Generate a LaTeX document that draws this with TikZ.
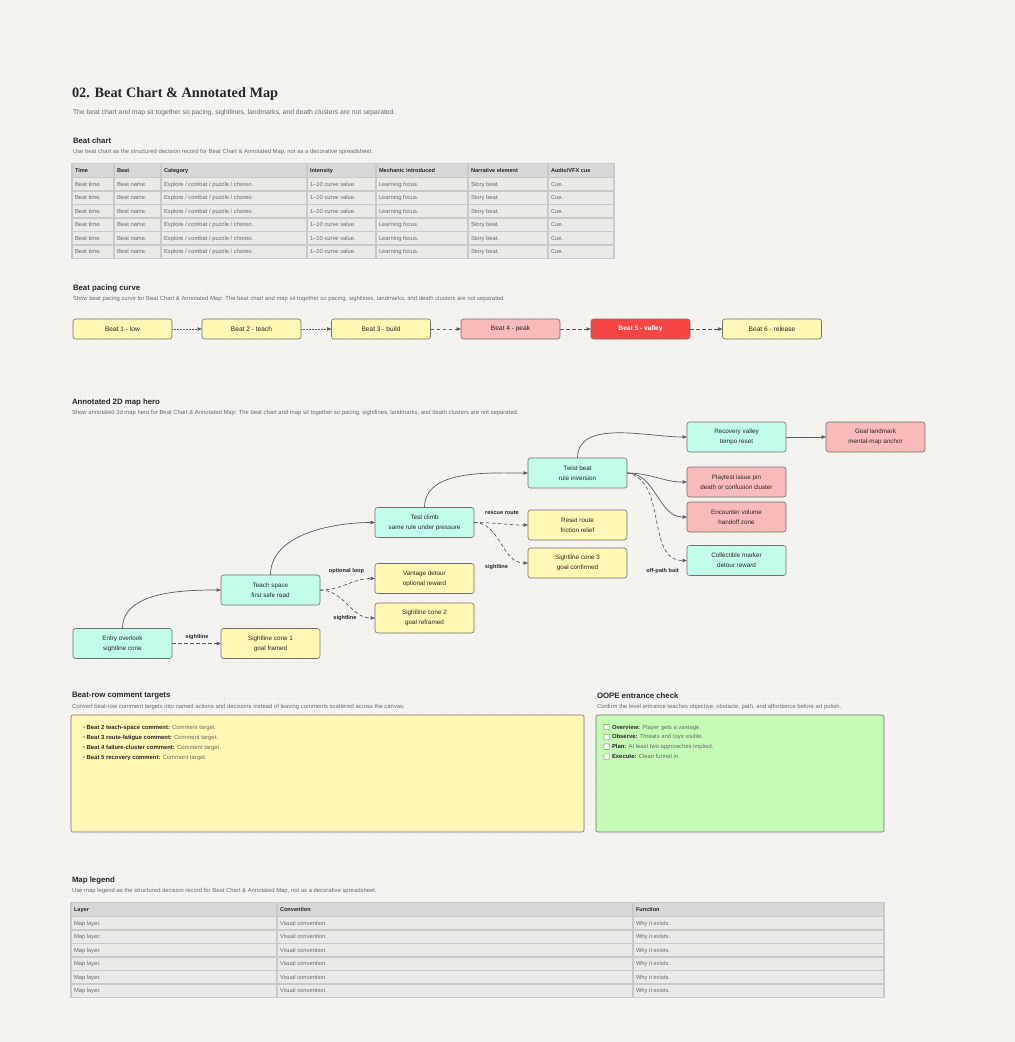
\documentclass[tikz,border=0pt]{standalone}
\usepackage{fontspec}
\setmainfont{Liberation Sans}
\newfontfamily\titlefont{Liberation Serif}
\usetikzlibrary{arrows.meta}
\definecolor{bgc}{HTML}{F4F3EF}
\definecolor{gridc}{HTML}{F0EFEB}
\definecolor{ink}{HTML}{262626}
\definecolor{subc}{HTML}{6A6A6A}
\definecolor{edgec}{HTML}{5A5A5A}
\definecolor{bordc}{HTML}{707070}
\definecolor{cteal}{HTML}{C2FCEB}
\definecolor{cyel}{HTML}{FFF7B3}
\definecolor{cpink}{HTML}{F9BABA}
\definecolor{cred}{HTML}{F44545}
\definecolor{cgreen}{HTML}{C4FCB5}
\definecolor{cellc}{HTML}{EBEAE6}
\definecolor{headc}{HTML}{D8D8D8}
\definecolor{tline}{HTML}{C9C9C9}
\begin{document}
\begin{tikzpicture}[x=1pt,y=-1pt,
  every node/.style={inner sep=0pt,outer sep=0pt},
  sec/.style={anchor=west,font=\fontsize{7.8}{9}\selectfont\bfseries,text=ink},
  sub/.style={anchor=west,font=\fontsize{5.9}{7}\selectfont,text=subc},
  cellt/.style={anchor=base west,font=\fontsize{5.8}{7}\selectfont,text=subc},
  hcellt/.style={anchor=base west,font=\fontsize{5.6}{7}\selectfont\bfseries,text=ink},
  mapbox/.style={draw=bordc,rounded corners=2.5pt,line width=0.6pt,minimum width=99pt,minimum height=30pt,align=center,font=\fontsize{6.3}{10}\selectfont,text=ink},
  beatbox/.style={draw=bordc,rounded corners=2.5pt,line width=0.6pt,minimum width=99pt,minimum height=20pt,font=\fontsize{6.6}{8}\selectfont,text=ink},
  link/.style={draw=edgec,line width=0.7pt,-{Triangle[length=4.5pt,width=3.4pt]}},
  dlink/.style={link,dash pattern=on 3.5pt off 2.5pt},
  flink/.style={link,dash pattern=on 1.2pt off 0.3pt},
  elab/.style={font=\fontsize{5.6}{7}\selectfont\bfseries,text=ink},
  item/.style={anchor=base west,font=\fontsize{5.9}{7}\selectfont,text=subc},
]
% background
\fill[bgc] (0,0) rectangle (1015,1042);
\useasboundingbox (0,0) rectangle (1015,1042);
\foreach \gx in {8,26,...,1015} \draw[gridc,line width=0.35pt] (\gx,0) -- (\gx,1042);
\foreach \gy in {14,32,...,1042} \draw[gridc,line width=0.35pt] (0,\gy) -- (1015,\gy);

% title
\node[anchor=west,font=\titlefont\fontsize{14.3}{16}\selectfont\bfseries,text=ink] (title) at (72,94) {02. Beat Chart \& Annotated Map};
\node[anchor=west,font=\fontsize{6.8}{8}\selectfont,text=subc] (subtitle) at (73,113) {The beat chart and map sit together so pacing, sightlines, landmarks, and death clusters are not separated.};

% ---------------- Beat chart table
\node[sec] (h1) at (73,141) {Beat chart};
\node[sub] (s1) at (73,152) {Use beat chart as the structured decision record for Beat Chart \& Annotated Map, not as a decorative spreadsheet.};
\fill[tline] (71,163) rectangle (615,259);
\foreach \xa/\xb [count=\c] in {72/114,114/161,161/307,307/376,376/468,468/548,548/614}{
  \fill[headc] (\xa+0.7,164) rectangle (\xb-0.7,176.9);
  \foreach \r in {1,...,6}{
    \pgfmathsetmacro{\ya}{164+13.5*\r}
    \fill[cellc] (\xa+0.7,\ya+0.7) rectangle (\xb-0.7,\ya+12.8);
  }
}
\foreach \xa/\txt [count=\c] in {72/{Time},114/{Beat},161/{Category},307/{Intensity},376/{Mechanic introduced},468/{Narrative element},548/{Audio/VFX cue}}
  \node[hcellt] (bh\c) at (\xa+3,172.8) {\txt};
\foreach \r in {1,...,6}{
  \pgfmathsetmacro{\yy}{172.8+13.5*\r}
  \node[cellt] (b\r a) at (75,\yy) {Beat time.};
  \node[cellt] (b\r b) at (117,\yy) {Beat name.};
  \node[cellt] (b\r c) at (164,\yy) {Explore / combat / puzzle / choreo.};
  \node[cellt] (b\r d) at (310,\yy) {1--10 curve value.};
  \node[cellt] (b\r e) at (379,\yy) {Learning focus.};
  \node[cellt] (b\r f) at (471,\yy) {Story beat.};
  \node[cellt] (b\r g) at (551,\yy) {Cue.};
}

% ---------------- Beat pacing curve
\node[sec] (h2) at (73,288) {Beat pacing curve};
\node[sub] (s2) at (73,299) {Show beat pacing curve for Beat Chart \& Annotated Map: The beat chart and map sit together so pacing, sightlines, landmarks, and death clusters are not separated.};
\node[beatbox,fill=cyel] (p1) at (122.5,329) {Beat 1 - low};
\node[beatbox,fill=cyel] (p2) at (251.5,329) {Beat 2 - teach};
\node[beatbox,fill=cyel] (p3) at (381,329) {Beat 3 - build};
\node[beatbox,fill=cpink] (p4) at (510.5,329) {Beat 4 - peak};
\node[beatbox,fill=cred,text=white,font=\fontsize{6.6}{8}\selectfont\bfseries] (p5) at (640.5,329) {Beat 5 - valley};
\node[beatbox,fill=cyel] (p6) at (772,329) {Beat 6 - release};
\draw[flink] (p1) -- (p2);
\draw[flink] (p2) -- (p3);
\draw[dlink] (p3) -- (p4);
\draw[dlink] (p4) -- (p5);
\draw[dlink] (p5) -- (p6);

% ---------------- Annotated 2D map hero
\node[sec] (h3) at (72,402) {Annotated 2D map hero};
\node[sub] (s3) at (72,413) {Show annotated 2d map hero for Beat Chart \& Annotated Map: The beat chart and map sit together so pacing, sightlines, landmarks, and death clusters are not separated.};

\node[mapbox,fill=cteal] (entry) at (122.5,643.5) {Entry overlook\\sightline cone};
\node[mapbox,fill=cyel] (cone1) at (270.5,643.5) {Sightline cone 1\\goal framed};
\node[mapbox,fill=cteal] (teach) at (270.5,590) {Teach space\\first safe read};
\node[mapbox,fill=cyel] (vantage) at (424.5,578.5) {Vantage detour\\optional reward};
\node[mapbox,fill=cyel] (cone2) at (424.5,618) {Sightline cone 2\\goal reframed};
\node[mapbox,fill=cteal] (test) at (424.5,522.5) {Test climb\\same rule under pressure};
\node[mapbox,fill=cyel] (reset) at (577.5,525) {Reset route\\friction relief};
\node[mapbox,fill=cyel] (cone3) at (577.5,563) {Sightline cone 3\\goal confirmed};
\node[mapbox,fill=cteal] (twist) at (577.5,473) {Twist beat\\rule inversion};
\node[mapbox,fill=cteal] (recovery) at (736.5,437) {Recovery valley\\tempo reset};
\node[mapbox,fill=cpink] (goal) at (875.5,437) {Goal landmark\\mental-map anchor};
\node[mapbox,fill=cpink] (playtest) at (736.5,482) {Playtest issue pin\\death or confusion cluster};
\node[mapbox,fill=cpink] (encounter) at (736.5,517) {Encounter volume\\handoff zone};
\node[mapbox,fill=cteal] (collect) at (736.5,560.5) {Collectible marker\\detour reward};

\draw[link] (entry.north) to[out=90,in=180,looseness=0.9] (teach.west);
\draw[link] (teach.north) to[out=90,in=180,looseness=0.9] (test.west);
\draw[link] (test.north) to[out=90,in=180,looseness=0.9] (twist.west);
\draw[link] (twist.north) to[out=90,in=180,looseness=0.9] (recovery.west);
\draw[link] (recovery) -- (goal);
\draw[link] (twist.east) to[out=0,in=180] (playtest.west);
\draw[link] (twist.east) to[out=0,in=180] (encounter.west);
\draw[dlink] (twist.east) to[out=-10,in=180] (collect.west);
\draw[dlink] (entry) -- (cone1);
\draw[dlink] (teach.east) to[out=0,in=180] (vantage.west);
\draw[dlink] (teach.east) to[out=0,in=180] (cone2.west);
\draw[dlink] (test.east) to[out=0,in=180] (reset.west);
\draw[dlink] (test.east) to[out=0,in=180] (cone3.west);

\node[elab] (l1) at (197,637) {sightline};
\node[elab] (l2) at (346.5,571) {optional loop};
\node[elab,fill=bgc,inner sep=1pt] (l3) at (345,618) {sightline};
\node[elab] (l4) at (502,513) {rescue route};
\node[elab] (l5) at (496.5,567) {sightline};
\node[elab] (l6) at (662.5,571.5) {off-path bait};

% ---------------- Beat-row comment targets
\node[sec] (h4) at (72,696) {Beat-row comment targets};
\node[sub] (s4) at (72,706.5) {Convert beat-row comment targets into named actions and decisions instead of leaving comments scattered across the canvas.};
\node[draw=bordc,fill=cyel,rounded corners=2pt,line width=0.6pt,minimum width=513pt,minimum height=117pt] (cbox) at (327.5,773.5) {};
\node[item] (c1) at (83,729.5) {\textbullet\ \textcolor{ink}{\bfseries Beat 2 teach-space comment:} Comment target.};
\node[item] (c2) at (83,739.5) {\textbullet\ \textcolor{ink}{\bfseries Beat 3 route-fatigue comment:} Comment target.};
\node[item] (c3) at (83,749.5) {\textbullet\ \textcolor{ink}{\bfseries Beat 4 failure-cluster comment:} Comment target.};
\node[item] (c4) at (83,759.5) {\textbullet\ \textcolor{ink}{\bfseries Beat 5 recovery comment:} Comment target.};

% ---------------- OOPE entrance check
\node[sec] (h5) at (597,696) {OOPE entrance check};
\node[sub] (s5) at (597,706.5) {Confirm the level entrance teaches objective, obstacle, path, and affordance before art polish.};
\node[draw=bordc,fill=cgreen,rounded corners=2pt,line width=0.6pt,minimum width=288pt,minimum height=117pt] (obox) at (740,773.5) {};
\foreach \yy/\lab/\txt [count=\c] in {727/{Overview:}/{Player gets a vantage.},736.8/{Observe:}/{Threats and toys visible.},746.6/{Plan:}/{At least two approaches implied.},756.4/{Execute:}/{Clean funnel in.}}{
  \node[draw=bordc,fill=white,rounded corners=0.6pt,line width=0.4pt,minimum width=5.4pt,minimum height=5.4pt] (ck\c) at (606.5,\yy) {};
  \node[item] (ot\c) at (612,\yy+2) {\textcolor{ink}{\bfseries\lab} \txt};
}

% ---------------- Map legend
\node[sec] (h6) at (72,880) {Map legend};
\node[sub] (s6) at (72,890.5) {Use map legend as the structured decision record for Beat Chart \& Annotated Map, not as a decorative spreadsheet.};
\fill[tline] (70,902) rectangle (885,998);
\foreach \xa/\xb in {71/277,277/633,633/884}{
  \fill[headc] (\xa+0.7,903) rectangle (\xb-0.7,915.9);
  \foreach \r in {1,...,6}{
    \pgfmathsetmacro{\ya}{903+13.5*\r}
    \fill[cellc] (\xa+0.7,\ya+0.7) rectangle (\xb-0.7,\ya+12.8);
  }
}
\node[hcellt] (lh1) at (74,911.8) {Layer};
\node[hcellt] (lh2) at (280,911.8) {Convention};
\node[hcellt] (lh3) at (636,911.8) {Function};
\foreach \r in {1,...,6}{
  \pgfmathsetmacro{\yy}{911.8+13.5*\r}
  \node[cellt] (m\r a) at (74,\yy) {Map layer.};
  \node[cellt] (m\r b) at (280,\yy) {Visual convention.};
  \node[cellt] (m\r c) at (636,\yy) {Why it exists.};
}
\end{tikzpicture}
\end{document}
